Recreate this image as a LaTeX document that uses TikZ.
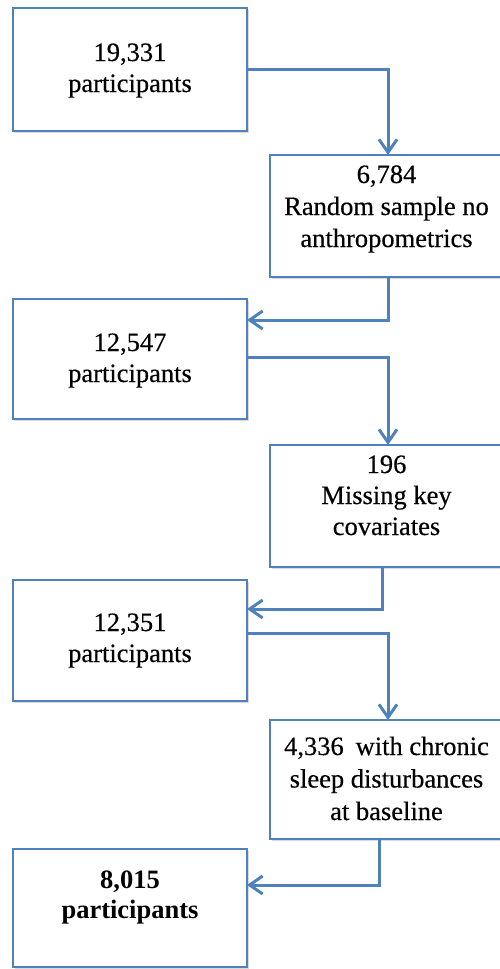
\documentclass[tikz,border=0pt]{standalone}
\usepackage{fontspec}
\setmainfont{Liberation Serif}[UprightFeatures={FakeBold=0.4}]
\usetikzlibrary{arrows.meta,shadows}
\definecolor{flowblue}{RGB}{79,129,189}
% box contents: width, height, first baseline from top, line spacing, lines
\newcommand\flowtext[5]{\parbox[c][#2][t]{#1}{\centering\fontsize{26.5pt}{#4}\selectfont\rule{0pt}{#3}#5\par}}
\begin{document}
\begin{tikzpicture}[x=1pt,y=-1pt,
  box/.style={draw=flowblue, line width=1.6pt, fill=white, inner sep=0pt, outer sep=0pt,
    drop shadow={shadow xshift=1.5pt, shadow yshift=-1.5pt, opacity=0.3, fill=black!50}},
  flow/.style={draw=flowblue, line width=3pt, -{Straight Barb[length=13pt,width=18pt]}}]
\useasboundingbox (0,0) rectangle (499,969);

% participant counts (left column)
\node[box] (b1) at (130,69.5) {\flowtext{234pt}{123pt}{53pt}{31pt}{19,331\\participants}};
\node[box] (b3) at (130,359) {\flowtext{234pt}{120pt}{52pt}{31pt}{12,547\\participants}};
\node[box] (b5) at (130,640.5) {\flowtext{234pt}{121pt}{51pt}{31pt}{12,351\\participants}};
\node[box] (b7) at (130,908) {\flowtext{234pt}{118pt}{39pt}{30pt}{\bfseries 8,015\\participants}};

% exclusions (right column); the boxes run on past the page edge
\node[box] (b2) at (400,216) {\flowtext{233pt}{122pt}{28pt}{32pt}{6,784\\Random sample no\\anthropometrics}\kern27pt};
\node[box] (b4) at (400,506) {\flowtext{233pt}{122pt}{28pt}{31pt}{196\\Missing key\\covariates}\kern27pt};
\node[box] (b6) at (400,779.5) {\flowtext{233pt}{119pt}{35pt}{32.5pt}{4,336\hspace{0.45em}with chronic\\sleep disturbances\\at baseline}\kern27pt};

% connectors
\draw[flow] (b1.east) -| ([xshift=-12pt]b2.north);
\draw[flow] ([xshift=-12pt]b2.south) |- ([yshift=-21pt]b3.north east);
\draw[flow] ([yshift=2pt]b3.east) -| ([xshift=-12pt]b4.north);
\draw[flow] ([xshift=-18pt]b4.south) |- ([yshift=-29pt]b5.north east);
\draw[flow] ([yshift=7.5pt]b5.east) -| ([xshift=-12pt]b6.north);
\draw[flow] ([xshift=-21pt]b6.south) |- ([yshift=-36pt]b7.north east);
\end{tikzpicture}
\end{document}
